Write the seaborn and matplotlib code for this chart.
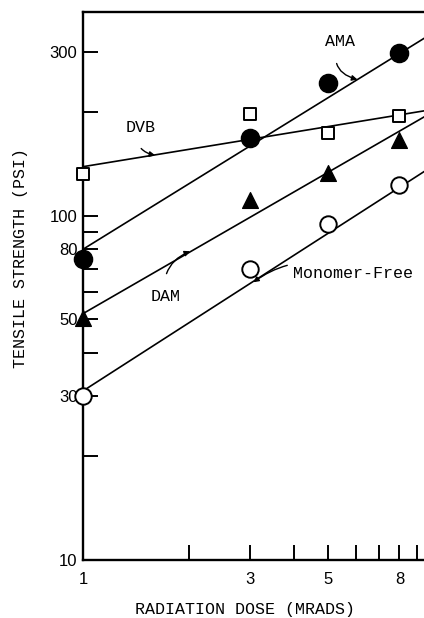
import matplotlib
matplotlib.use("Agg")
import matplotlib.pyplot as plt
import seaborn as sns
import numpy as np
import pandas as pd

dose = [1, 3, 5, 8]
ama = [75, 168, 244, 298]
dvb = [132, 198, 174, 195]
dam = [50.5, 111, 133, 166]
monomer_free = [30, 70, 95, 123]

# hand-drawn fit lines, values at dose = 1 and dose = 10
fit_dose = [1, 10]
ama_fit = [80, 341]
dvb_fit = [139, 204]
dam_fit = [52, 201]
mf_fit = [31, 140]

x_ticks = [1, 2, 3, 4, 5, 6, 7, 8, 9]
x_labels = ["1", "", "3", "", "5", "", "", "8", ""]
y_ticks = [10, 20, 30, 40, 50, 60, 70, 80, 90, 100, 200, 300]
y_labels = ["10", "", "30", "", "50", "", "", "80", "", "100", "", "300"]

sns.set_style("ticks")
plt.rcParams["font.family"] = ["Liberation Sans", "DejaVu Sans"]
plt.rcParams["text.color"] = "black"
plt.rcParams["axes.labelcolor"] = "black"
plt.rcParams["xtick.color"] = "black"
plt.rcParams["ytick.color"] = "black"
mono = "Liberation Mono"

fig = plt.figure(figsize=(4.24, 6.18), dpi=100)
ax = fig.add_axes([0.196, 0.094, 0.804, 0.887])
ax.set_xscale("log")
ax.set_yscale("log")

# fit lines
for fit in [ama_fit, dvb_fit, dam_fit, mf_fit]:
    sns.lineplot(x=fit_dose, y=fit, ax=ax, color="black", linewidth=1.2)

# data markers
pts = pd.DataFrame({"dose": dose, "AMA": ama, "DVB": dvb, "DAM": dam, "MF": monomer_free})
sns.scatterplot(data=pts, x="dose", y="AMA", ax=ax, marker="o", s=170,
                color="black", edgecolor="black", clip_on=False, zorder=3)
sns.scatterplot(data=pts, x="dose", y="DVB", ax=ax, marker="s", s=85,
                color="white", edgecolor="black", linewidth=1.4, clip_on=False, zorder=3)
sns.scatterplot(data=pts, x="dose", y="DAM", ax=ax, marker="^", s=130,
                color="black", edgecolor="black", clip_on=False, zorder=3)
sns.scatterplot(data=pts, x="dose", y="MF", ax=ax, marker="o", s=140,
                color="white", edgecolor="black", linewidth=1.4, clip_on=False, zorder=3)

ax.set_xlim(1, 9.4)
ax.set_ylim(10, 392)

ax.xaxis.set_minor_locator(matplotlib.ticker.NullLocator())
ax.yaxis.set_minor_locator(matplotlib.ticker.NullLocator())
ax.set_xticks(x_ticks)
ax.set_xticklabels(x_labels)
ax.set_yticks(y_ticks)
ax.set_yticklabels(y_labels)
ax.tick_params(axis="both", direction="in", length=11, width=1.4,
               labelsize=12, color="black", labelcolor="black")
ax.tick_params(axis="x", pad=9)
ax.tick_params(axis="y", pad=4)

for side in ["left", "bottom", "top"]:
    ax.spines[side].set_linewidth(1.7)
    ax.spines[side].set_color("black")
ax.spines["right"].set_visible(False)

ax.set_xlabel("RADIATION DOSE (MRADS)", fontsize=12, family=mono)
ax.set_ylabel("TENSILE STRENGTH (PSI)", fontsize=12, family=mono)
ax.xaxis.set_label_coords(0.475, -0.076)
ax.yaxis.set_label_coords(-0.163, 0.55)

# curve labels with wiggly pointers
arrow = dict(arrowstyle="-|>", color="black", lw=1.0, mutation_scale=8)
ax.annotate("AMA", xy=(6.07, 249), xytext=(5.42, 321), fontsize=12, family=mono,
            ha="center", va="center",
            arrowprops=dict(arrow, connectionstyle="arc3,rad=0.6",
                            shrinkA=8, shrinkB=0))
ax.annotate("DVB", xy=(1.606, 150), xytext=(1.455, 181), fontsize=12, family=mono,
            ha="center", va="center",
            arrowprops=dict(arrow, connectionstyle="arc3,rad=0.6",
                            shrinkA=8, shrinkB=0))
ax.annotate("DAM", xy=(2.02, 78.9), xytext=(1.716, 58.2), fontsize=12, family=mono,
            ha="center", va="center",
            arrowprops=dict(arrow, connectionstyle="arc3,rad=-0.4",
                            shrinkA=9, shrinkB=0))
ax.annotate("Monomer-Free", xy=(3.06, 64.1), xytext=(3.98, 68.2), fontsize=12,
            family=mono, ha="left", va="center",
            arrowprops=dict(arrow, connectionstyle="arc3,rad=0.3",
                            shrinkA=2, shrinkB=0))

plt.savefig("out.png", dpi=100)
